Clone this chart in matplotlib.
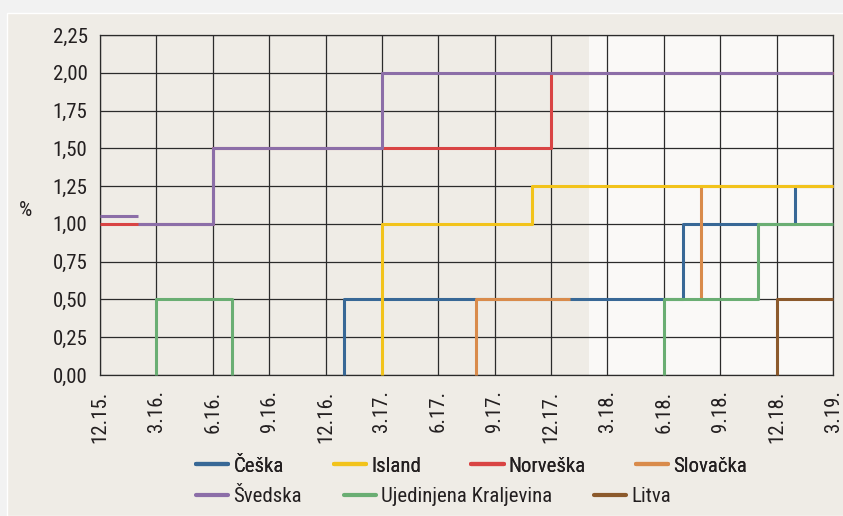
import numpy as np
import matplotlib
matplotlib.use('Agg')
import matplotlib.pyplot as plt
from matplotlib import font_manager
from matplotlib.patches import Rectangle

# pick a narrow font if one is installed
names = {f.name: f for f in font_manager.fontManager.ttflist}
stretches = {(f.name, f.stretch) for f in font_manager.fontManager.ttflist}
family = 'DejaVu Sans'
for cand in ['Liberation Sans Narrow', 'Roboto Condensed', 'Open Sans Condensed', 'Arial Narrow']:
    if cand in names:
        family = cand
        break
plt.rcParams['font.family'] = [family, 'DejaVu Sans']
if family == 'DejaVu Sans' and any(n == 'DejaVu Sans' and s in ('condensed', 'semi-condensed')
                                   for n, s in stretches):
    plt.rcParams['font.stretch'] = 'condensed'

# months counted from 12.15.
tick_labels = ['12.15.', '3.16.', '6.16.', '9.16.', '12.16.', '3.17.', '6.17.',
               '9.17.', '12.17.', '3.18.', '6.18.', '9.18.', '12.18.', '3.19.']
y_ticks = [0.0, 0.25, 0.5, 0.75, 1.0, 1.25, 1.5, 1.75, 2.0, 2.25]
shade_end = 26  # grey background up to here

# each series: list of (x, y) step pieces, steps-post
ceska = [([13, 13, 31, 37, 39], [0, 0.5, 1.0, 1.25, 1.25])]
island = [([15, 15, 23, 39], [0, 1.0, 1.25, 1.25])]
norveska = [([0, 6, 24, 39], [1.0, 1.5, 2.0, 2.0])]
slovacka = [([20, 20, 25], [0, 0.5, 0.5]),
            ([32, 32, 39], [0.5, 1.25, 1.25])]
svedska = [([0, 2], [1.05, 1.05]),
           ([2, 6, 15, 39], [1.0, 1.5, 2.0, 2.0])]
uk = [([3, 3, 7], [0, 0.5, 0]),
      ([30, 30, 35, 39], [0, 0.5, 1.0, 1.0])]
litva = [([36, 36, 39], [0, 0.5, 0.5])]

colors = {
    'Češka': '#386896',
    'Island': '#F2C31B',
    'Norveška': '#D94444',
    'Slovačka': '#D98B4B',
    'Švedska': '#8C6EA8',
    'Ujedinjena Kraljevina': '#6AAE73',
    'Litva': '#8C5A2C',
}

# drawing order (bottom to top)
series = [('Norveška', norveska), ('Švedska', svedska), ('Češka', ceska),
          ('Slovačka', slovacka), ('Island', island),
          ('Ujedinjena Kraljevina', uk), ('Litva', litva)]

W, H = 843, 516
fig = plt.figure(figsize=(W / 100, H / 100), dpi=100)
fig.patch.set_facecolor('#F2F2F2')
fig.patches.append(Rectangle((7 / W, 0), 1, 1 - 13 / H, transform=fig.transFigure,
                             facecolor='#EFECE6', edgecolor='white', lw=1, zorder=-5))

ax = fig.add_axes([100 / W, 1 - 375 / H, 733 / W, 340 / H])
ax.set_facecolor('#FAF9F7')
ax.axvspan(0, shade_end, color='#EFECE6', lw=0, zorder=0)

lw = 2.2
handles = {}
for name, pieces in series:
    for xs, ys in pieces:
        ln, = ax.plot(xs, ys, drawstyle='steps-post', color=colors[name], lw=lw,
                      solid_capstyle='butt', clip_on=False, zorder=3)
    handles[name] = ln

ax.set_xlim(0, 39)
ax.set_ylim(0, 2.25)
ax.set_xticks(np.arange(0, 40, 3))
ax.set_xticklabels(tick_labels, rotation=90)
ax.set_yticks(y_ticks)
ax.set_yticklabels([f'{v:.2f}'.replace('.', ',') for v in y_ticks])
ax.tick_params(length=0, labelsize=15, colors='#231f20')
ax.tick_params(axis='y', pad=9)
ax.tick_params(axis='x', pad=11)
ax.grid(True, color='#2b2b2b', lw=0.9, zorder=1)
ax.set_axisbelow(True)
for s in ax.spines.values():
    s.set_color('#2b2b2b')
    s.set_linewidth(0.9)

fig.text(25 / W, 1 - 210 / H, '%', fontsize=15, color='#231f20', ha='center', va='center')


def make_leg(names, y, spacing):
    leg = fig.legend([handles[n] for n in names], names, loc='center left',
                     bbox_to_anchor=(196 / W, 1 - y / H), ncol=len(names), frameon=False,
                     fontsize=15, handlelength=1.55, handletextpad=0.25,
                     columnspacing=spacing, borderpad=0, borderaxespad=0,
                     labelcolor='#231f20')
    for l in leg.get_lines():
        l.set_linewidth(3)
        l.set_solid_capstyle('round')
    return leg


leg1 = make_leg(['Češka', 'Island', 'Norveška', 'Slovačka'], 466, 2.4)
fig.add_artist(leg1)
make_leg(['Švedska', 'Ujedinjena Kraljevina', 'Litva'], 497, 2.0)

fig.savefig('out.png', dpi=100, facecolor=fig.get_facecolor())
